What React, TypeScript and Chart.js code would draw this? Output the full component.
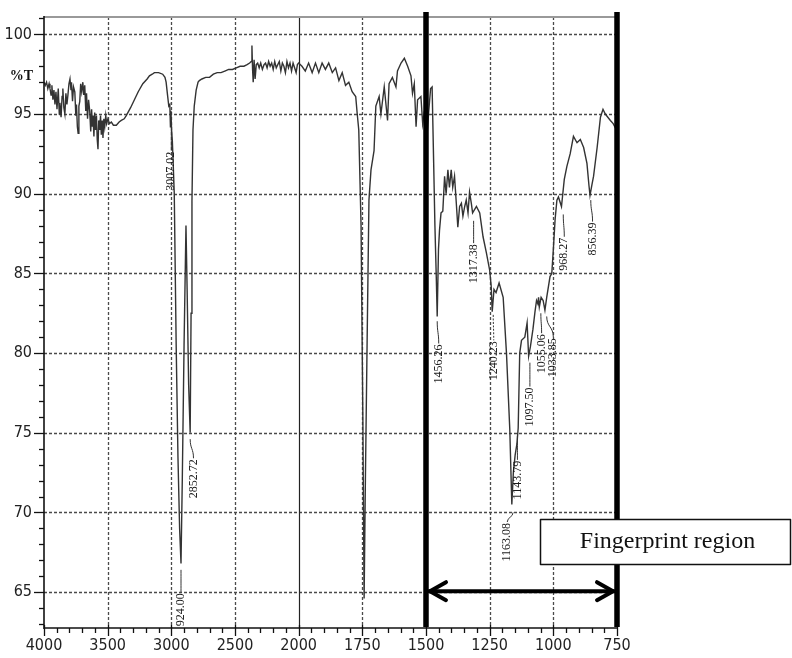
import React, { useEffect, useRef } from 'react';
import { Chart, registerables, LinearScale } from 'chart.js';

// ---------------- data (wavenumber cm-1, %T) ----------------
const WN_OH = [4000,3990,3980,3970,3960,3953,3945,3938,3930,3922,3914,3906,3898,3888,3880,3875,3866,3858,3852,3844,3836,3828,3820,3812,3804,3796,3788,3784,3776,3768,3758,3750,3745,3738,3732,3726,3719,3712,3704,3695,3688,3680,3672,3666,3658,3650,3641,3633,3626,3620,3615,3608,3602,3595,3588,3582,3576,3570,3563,3556,3550,3543,3537,3530,3523,3515,3508,3498,3485,3471,3455,3432,3410,3393,3370,3354,3320,3290,3260,3224,3190,3172,3150,3133,3100,3068,3050,3041,3030,3020];
const T_OH = [97.0,96.8,97.0,96.6,96.9,96.6,96.2,96.8,95.9,96.5,95.6,96.4,95.3,96.6,95.0,95.7,94.8,96.1,96.6,95.4,95.0,96.3,95.6,96.2,96.9,97.2,96.5,97.0,95.8,96.7,96.4,94.9,95.6,94.2,93.8,95.5,95.8,96.9,96.4,97.0,96.2,96.8,95.2,96.3,94.7,95.9,95.2,93.9,95.3,94.2,94.9,93.6,95.1,94.0,94.9,93.4,92.8,94.6,94.0,94.9,93.7,94.6,93.5,94.7,94.2,94.9,94.4,94.7,94.4,94.5,94.3,94.3,94.5,94.6,94.7,94.9,95.4,95.9,96.4,96.9,97.2,97.4,97.5,97.6,97.6,97.5,97.3,97.0,96.2,95.5];

const WN_CH = [3012,3007,3003,2998,2992,2985,2977,2962,2948,2935,2924,2914,2900,2885,2876,2864,2852,2845,2838,2830,2820,2805,2790];
const T_CH = [95.6,94.2,95.2,94.0,93.3,91.8,90.0,80.5,73.5,69.0,66.8,72.0,80.5,88.0,84.0,78.0,75.0,82.5,89.5,94.0,95.5,96.5,97.0];

const WN_PL = [2780,2760,2730,2700,2670,2640,2610,2580,2550,2520,2490,2460,2430,2405,2385,2372,2367,2362,2357,2350,2342,2333,2322,2310,2298,2285,2272,2260,2248,2236,2224,2212,2200,2188,2176,2164,2152,2140,2128,2116,2104,2092,2080,2068,2056,2044,2032,2020,2010,2000];
const T_PL = [97.1,97.2,97.3,97.3,97.5,97.6,97.6,97.7,97.8,97.8,97.9,98.0,98.0,98.1,98.2,98.3,99.3,97.8,97.0,98.4,97.2,98.1,98.2,97.9,98.2,97.8,98.1,98.2,97.9,98.3,98.0,98.2,97.8,98.3,97.9,98.1,98.3,97.7,98.2,98.0,97.6,98.3,97.9,98.2,97.7,98.2,97.9,97.6,98.1,98.2];

const WN_CO = [1987,1974,1961,1947,1934,1921,1908,1895,1882,1868,1855,1842,1829,1816,1803,1790,1776,1770,1764,1755,1748,1743,1738,1731,1724,1716,1704,1697,1684,1677,1664,1651,1645,1632,1618,1612,1598,1585,1572,1559,1553,1546,1539,1533,1520,1513,1506,1499];
const T_CO = [98.0,97.7,98.2,97.6,98.2,97.6,98.2,97.8,98.2,97.6,97.9,97.1,97.6,96.8,97.0,96.4,96.1,95.0,94.0,88.0,76.0,64.6,72.0,81.0,89.6,91.5,92.7,95.5,96.1,95.0,96.7,94.6,96.9,97.3,96.7,97.7,98.2,98.5,98.0,97.4,96.3,96.9,94.2,95.9,96.1,94.4,95.2,93.0];

const WN_FP = [1490,1482,1476,1470,1465,1460,1456,1451,1447,1441,1434,1427,1421,1414,1408,1401,1395,1388,1381,1375,1368,1361,1355,1348,1342,1335,1329,1322,1317,1302,1289,1276,1263,1250,1244,1240,1233,1225,1213,1197,1184,1171,1163,1157,1150,1143,1138,1132,1125,1112,1103,1097,1090,1080,1072,1066,1061,1058,1055,1048,1040,1033,1026,1013,1006,1000,993,986,980,968,957,947,934,921,907,894,881,868,860,856,848,842,828,815,805,796,786,776,765,752];
const T_FP = [95.0,96.6,96.7,92.0,88.0,85.0,82.3,86.5,87.7,88.8,88.9,91.1,90.0,91.5,90.4,91.5,90.4,91.1,89.4,87.9,89.2,89.4,88.6,89.2,89.6,88.8,90.1,89.4,88.8,89.2,88.8,87.3,86.3,85.2,84.2,82.6,84.0,83.8,84.4,83.5,80.0,75.2,70.5,72.5,73.6,74.3,75.3,80.0,80.8,81.0,81.9,79.8,80.4,81.5,82.6,83.3,83.1,83.5,82.9,83.5,83.3,82.7,83.5,84.8,85.0,86.5,88.4,89.6,89.8,89.2,90.9,91.7,92.5,93.6,93.2,93.4,92.9,91.9,90.5,89.9,90.6,91.1,92.9,94.8,95.3,95.0,94.8,94.6,94.4,94.0];

const X_TICK_VALUES = [4000, 3500, 3000, 2500, 2000, 1750, 1500, 1250, 1000, 750];
const Y_TICK_VALUES = [65, 70, 75, 80, 85, 90, 95, 100];

const PEAK_LABELS = ['3007.02', '2924.00', '2852.72', '1456.26', '1317.38', '1240.23', '1163.08', '1143.79', '1097.50', '1055.06', '1033.85', '968.27', '856.39'];
// leader tip (wavenumber, %T) and text top anchor (wavenumber, %T)
const LABEL_TIP_WN = [3000, 2924, 2852, 1456, 1313, 1236, 1158, 1141, 1092, 1049, 1026, 961, 853];
const LABEL_TIP_T = [94.0, 66.4, 74.6, 82.0, 88.3, 82.4, 70.0, 74.8, 79.4, 82.5, 82.3, 88.7, 89.6];
const LABEL_TEXT_WN = [3000, 2924, 2826, 1450, 1313, 1234, 1181, 1141, 1092, 1046, 1000, 957, 846];
const LABEL_TEXT_T = [92.7, 65.0, 73.4, 80.6, 86.9, 80.8, 69.4, 73.3, 77.9, 81.25, 81.0, 87.3, 88.25];

const REGION_START = 1500;
const REGION_END = 750;
const REGION_TEXT = 'Fingerprint region';

// ---------------- split wavenumber axis (x2 expansion below 2000) ----------------
function wnToDecimal(w: number) {
  const p = w >= 2000 ? (4000 - w) / 500 : 4 + (2000 - w) / 250;
  return p / 9;
}
function decimalToWn(d: number) {
  const p = d * 9;
  return p <= 4 ? 4000 - p * 500 : 2000 - (p - 4) * 250;
}

class IRWaveScale extends LinearScale {
  static id = 'irwave';
  getPixelForValue(value: number) {
    if (value === null || value === undefined || isNaN(value)) return NaN;
    return this.getPixelForDecimal(wnToDecimal(value));
  }
  getValueForPixel(pixel: number) {
    return decimalToWn(this.getDecimalForPixel(pixel));
  }
}

Chart.register(...registerables, IRWaveScale);

const NARROW = '"Liberation Sans Narrow", "DejaVu Sans Condensed", "Liberation Sans", sans-serif';
const SERIF = '"Liberation Serif", "Times New Roman", serif';

function line(ctx: CanvasRenderingContext2D, x1: number, y1: number, x2: number, y2: number) {
  ctx.beginPath();
  ctx.moveTo(x1, y1);
  ctx.lineTo(x2, y2);
  ctx.stroke();
}

const decorPlugin = {
  id: 'irDecor',
  beforeDatasetsDraw(chart: any) {
    const { ctx, chartArea: a } = chart;
    const x = chart.scales.x;
    const y = chart.scales.y;
    ctx.save();
    ctx.strokeStyle = '#4a4a4a';
    ctx.lineWidth = 1.3;
    ctx.setLineDash([3, 2]);
    Y_TICK_VALUES.forEach((v) => {
      const py = Math.round(y.getPixelForValue(v)) + 0.5;
      line(ctx, a.left, py, a.right, py);
    });
    X_TICK_VALUES.forEach((v) => {
      if (v === 4000 || v === 2000 || v === 750) return;
      const px = Math.round(x.getPixelForValue(v)) + 0.5;
      line(ctx, px, a.top, px, a.bottom);
    });
    ctx.setLineDash([]);
    ctx.strokeStyle = '#222';
    ctx.lineWidth = 1.2;
    const p2000 = Math.round(x.getPixelForValue(2000)) + 0.5;
    line(ctx, p2000, a.top, p2000, a.bottom);
    // top frame
    ctx.strokeStyle = '#999';
    ctx.lineWidth = 2;
    line(ctx, a.left, a.top, a.right + 1, a.top);
    ctx.restore();
  },
  afterDraw(chart: any) {
    const { ctx, chartArea: a } = chart;
    const x = chart.scales.x;
    const y = chart.scales.y;
    ctx.save();
    // axes
    ctx.strokeStyle = '#111';
    ctx.lineWidth = 1.6;
    line(ctx, a.left, a.top - 1, a.left, a.bottom + 1);
    line(ctx, a.left, a.bottom, a.right, a.bottom);
    // y ticks
    ctx.lineWidth = 1.3;
    for (let v = 63; v <= 101; v++) {
      const py = Math.round(y.getPixelForValue(v)) + 0.5;
      const len = v % 5 === 0 ? 10 : 5;
      line(ctx, a.left - len, py, a.left, py);
    }
    // x ticks
    const minor: number[] = [];
    for (let w = 4000; w > 2000; w -= 100) minor.push(w);
    for (let w = 2000; w >= 750; w -= 50) minor.push(w);
    minor.forEach((w) => {
      const px = Math.round(x.getPixelForValue(w)) + 0.5;
      if (X_TICK_VALUES.indexOf(w) >= 0) line(ctx, px, a.bottom - 3, px, a.bottom + 8);
      else line(ctx, px, a.bottom, px, a.bottom + 5);
    });

    // "%T"
    ctx.fillStyle = '#111';
    ctx.font = 'bold 14px ' + SERIF;
    ctx.textAlign = 'right';
    ctx.textBaseline = 'middle';
    ctx.fillText('%T', a.left - 11, y.getPixelForValue(97.38));

    // peak labels
    ctx.save();
    ctx.beginPath();
    ctx.rect(a.left, a.top, a.right - a.left, a.bottom - a.top - 1);
    ctx.clip();
    ctx.strokeStyle = '#333';
    ctx.fillStyle = '#1a1a1a';
    ctx.lineWidth = 1;
    ctx.font = '12px ' + SERIF;
    PEAK_LABELS.forEach((txt, i) => {
      const tx = x.getPixelForValue(LABEL_TIP_WN[i]);
      const ty = y.getPixelForValue(LABEL_TIP_T[i]);
      const lx = x.getPixelForValue(LABEL_TEXT_WN[i]);
      const ly = y.getPixelForValue(LABEL_TEXT_T[i]);
      ctx.setLineDash(txt === '1240.23' ? [2, 1.5] : []);
      ctx.beginPath();
      ctx.moveTo(tx, ty);
      const my = (ty + ly) / 2;
      ctx.bezierCurveTo(tx, my, lx, my, lx, ly);
      ctx.stroke();
      ctx.setLineDash([]);
      ctx.save();
      ctx.translate(lx, ly + 1);
      ctx.rotate(-Math.PI / 2);
      ctx.textAlign = 'right';
      ctx.textBaseline = 'middle';
      ctx.fillText(txt, 0, 0);
      ctx.restore();
    });
    ctx.restore();

    // region bars
    ctx.fillStyle = '#000';
    [REGION_START, REGION_END].forEach((w) => {
      const px = x.getPixelForValue(w);
      ctx.fillRect(px - 2.75, a.top - 5, 5.5, a.bottom - a.top + 4);
    });
    // double arrow
    const xs = x.getPixelForValue(REGION_START) + 3;
    const xe = x.getPixelForValue(REGION_END) - 3;
    const ya = y.getPixelForValue(65) - 1;
    ctx.strokeStyle = '#000';
    ctx.lineWidth = 4;
    ctx.lineCap = 'round';
    ctx.lineJoin = 'round';
    line(ctx, xs, ya, xe, ya);
    ctx.beginPath();
    ctx.moveTo(xs + 17, ya - 9);
    ctx.lineTo(xs + 1, ya);
    ctx.lineTo(xs + 17, ya + 9);
    ctx.stroke();
    ctx.beginPath();
    ctx.moveTo(xe - 17, ya - 9);
    ctx.lineTo(xe - 1, ya);
    ctx.lineTo(xe - 17, ya + 9);
    ctx.stroke();
    ctx.lineCap = 'butt';

    // region box
    const bx1 = Math.round(x.getPixelForValue(1052)) + 0.5;
    const bx2 = a.right + 173.5;
    const by1 = Math.round(y.getPixelForValue(69.6)) + 0.5;
    const by2 = Math.round(y.getPixelForValue(66.78)) + 0.5;
    ctx.fillStyle = '#fff';
    ctx.fillRect(bx1, by1, bx2 - bx1, by2 - by1);
    ctx.strokeStyle = '#111';
    ctx.lineWidth = 1.5;
    ctx.strokeRect(bx1, by1, bx2 - bx1, by2 - by1);
    ctx.fillStyle = '#111';
    ctx.font = '24px ' + SERIF;
    ctx.textAlign = 'center';
    ctx.textBaseline = 'middle';
    ctx.fillText(REGION_TEXT, (bx1 + bx2) / 2 + 2, (by1 + by2) / 2);
    ctx.restore();
  },
};

export default function App() {
  const ref = useRef<HTMLCanvasElement | null>(null);
  useEffect(() => {
    if (!ref.current) return;
    const wn = [...WN_OH, ...WN_CH, ...WN_PL, ...WN_CO, ...WN_FP];
    const tr = [...T_OH, ...T_CH, ...T_PL, ...T_CO, ...T_FP];
    const points = wn.map((w, i) => ({ x: w, y: tr[i] }));
    const chart = new Chart(ref.current, {
      type: 'line',
      data: {
        datasets: [
          {
            data: points,
            borderColor: '#333',
            borderWidth: 1.4,
            pointRadius: 0,
            tension: 0,
            fill: false,
          },
        ],
      },
      options: {
        animation: false,
        responsive: false,
        events: [],
        layout: { padding: { left: 0, right: 175, top: 17, bottom: 0 } },
        plugins: { legend: { display: false }, tooltip: { enabled: false } },
        scales: {
          x: {
            type: 'irwave' as any,
            position: 'bottom',
            min: 750,
            max: 4000,
            bounds: 'data',
            grid: { display: false, drawTicks: false },
            border: { display: false },
            afterBuildTicks: (s: any) => {
              s.ticks = X_TICK_VALUES.map((v) => ({ value: v }));
            },
            afterFit: (s: any) => {
              s.height = 30;
              s.paddingLeft = 0;
              s.paddingRight = 0;
            },
            ticks: {
              autoSkip: false,
              maxRotation: 0,
              minRotation: 0,
              padding: 8,
              color: '#222',
              font: { family: NARROW, size: 16 },
              callback: (v: any) => String(v),
            },
          },
          y: {
            type: 'linear',
            position: 'left',
            min: 62.75,
            max: 101.09,
            bounds: 'data',
            grid: { display: false, drawTicks: false },
            border: { display: false },
            afterBuildTicks: (s: any) => {
              s.ticks = Y_TICK_VALUES.map((v) => ({ value: v }));
            },
            afterFit: (s: any) => {
              s.width = 44;
              s.paddingTop = 0;
              s.paddingBottom = 0;
            },
            ticks: {
              padding: 12,
              color: '#222',
              font: { family: NARROW, size: 16 },
              callback: (v: any) => String(v),
            },
          },
        },
      } as any,
      plugins: [decorPlugin],
    });
    return () => chart.destroy();
  }, []);
  return (
    <div style={{ position: 'absolute', left: 0, top: 0, width: 792, height: 658, background: '#fff' }}>
      <canvas ref={ref} width={792} height={658} style={{ display: 'block', width: 792, height: 658 }} />
    </div>
  );
}
